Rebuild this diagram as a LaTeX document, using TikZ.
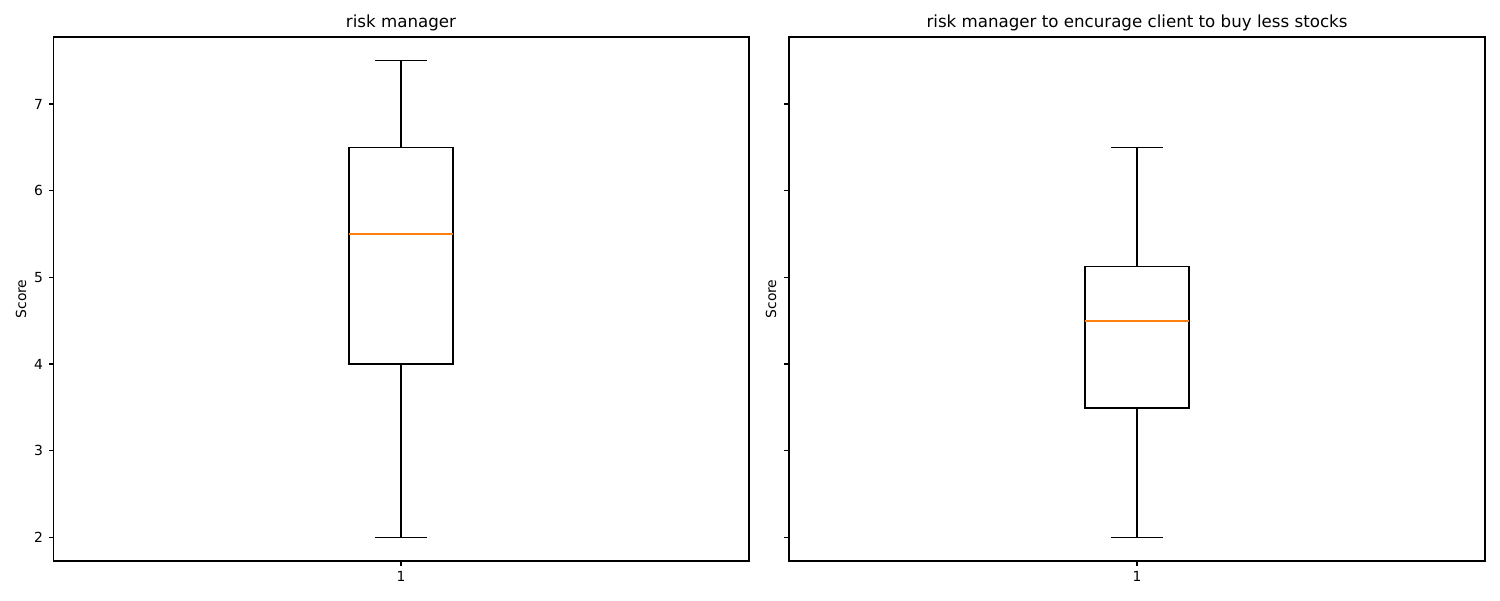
\documentclass[tikz,border=0pt]{standalone}
\usepackage{fontspec}
\setmainfont{DejaVu Sans}
\usepackage{tikz}

\definecolor{medianorange}{HTML}{FF7F0E}
\tikzset{
  frame/.style={line width=0.8pt},
  tick/.style={line width=0.8pt},
  ticklabel/.style={font=\fontsize{10}{12}\selectfont, inner sep=0pt},
  boxline/.style={line width=1pt},
  medianline/.style={line width=1pt, medianorange},
  paneltitle/.style={font=\fontsize{12}{14}\selectfont, inner sep=0pt}
}

\begin{document}
\begin{tikzpicture}[x=0.72pt,y=-0.72pt]
\useasboundingbox[fill=white] (0,0) rectangle (1500,600);
% left panel
\draw[frame] (53.5,37) rectangle (749,561);
\node[paneltitle] (titleL) at (401,23) {risk manager};
\node[ticklabel,rotate=90] (scoreL) at (21,299) {Score};
\draw[tick] (53.5,104) -- (48.5,104) node[ticklabel,left=3.5pt] (y7) {7};
\draw[tick] (53.5,190.6) -- (48.5,190.6) node[ticklabel,left=3.5pt] (y6) {6};
\draw[tick] (53.5,277.5) -- (48.5,277.5) node[ticklabel,left=3.5pt] (y5) {5};
\draw[tick] (53.5,364) -- (48.5,364) node[ticklabel,left=3.5pt] (y4) {4};
\draw[tick] (53.5,450.8) -- (48.5,450.8) node[ticklabel,left=3.5pt] (y3) {3};
\draw[tick] (53.5,537.5) -- (48.5,537.5) node[ticklabel,left=3.5pt] (y2) {2};
\draw[tick] (401,561) -- (401,566) node[ticklabel,below=3.5pt] (xL) {1};
% left box
\draw[boxline] (349,364) rectangle (453,147.3);
\draw[medianline] (349,234) -- (453,234);
\draw[boxline] (401,147.3) -- (401,60.7);
\draw[boxline] (401,364) -- (401,537.5);
\draw[boxline] (375,60.7) -- (427,60.7);
\draw[boxline] (375,537.5) -- (427,537.5);
% right panel
\draw[frame] (789,37) rectangle (1485,561);
\node[paneltitle] (titleR) at (1137,23) {risk manager to encurage client to buy less stocks};
\node[ticklabel,rotate=90] (scoreR) at (771,299) {Score};
\draw[tick] (789,104) -- (784,104);
\draw[tick] (789,190.6) -- (784,190.6);
\draw[tick] (789,277.5) -- (784,277.5);
\draw[tick] (789,364) -- (784,364);
\draw[tick] (789,450.8) -- (784,450.8);
\draw[tick] (789,537.5) -- (784,537.5);
\draw[tick] (1137,561) -- (1137,566) node[ticklabel,below=3.5pt] (xR) {1};
% right box
\draw[boxline] (1085,407.9) rectangle (1189,266.7);
\draw[medianline] (1085,320.9) -- (1189,320.9);
\draw[boxline] (1137,266.7) -- (1137,147.3);
\draw[boxline] (1137,407.9) -- (1137,537.5);
\draw[boxline] (1111,147.3) -- (1163,147.3);
\draw[boxline] (1111,537.5) -- (1163,537.5);
\end{tikzpicture}
\end{document}
